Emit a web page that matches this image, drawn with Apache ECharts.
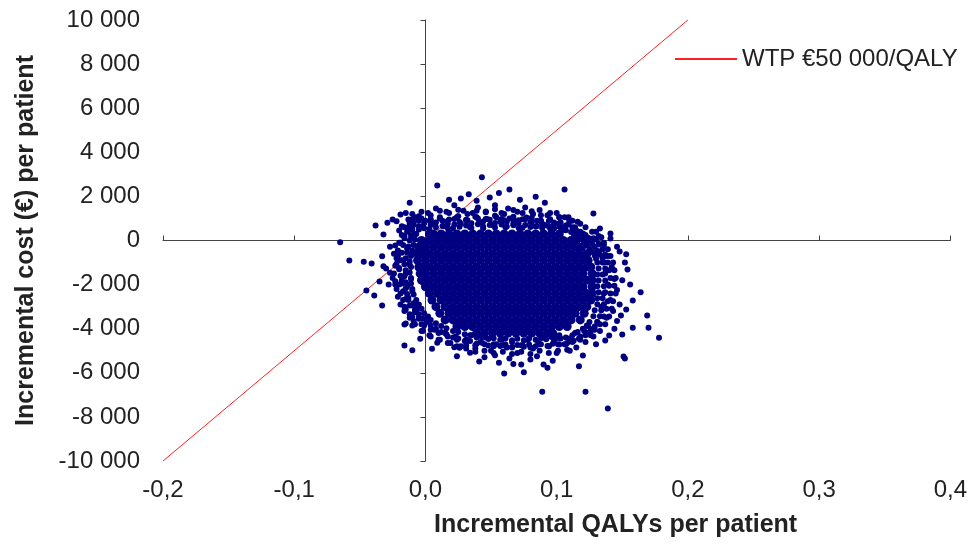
<!DOCTYPE html>
<html>
<head>
<meta charset="utf-8">
<script src="https://cdn.jsdelivr.net/npm/echarts@6/dist/echarts.min.js"></script>
<style>
  html, body { margin: 0; padding: 0; background: #fff; }
  #chart { width: 970px; height: 545px; }
</style>
</head>
<body>
<div id="chart"></div>
<script>
// cost-effectiveness plane: incremental QALYs vs incremental cost (bootstrap cloud)

const qalyAxis = { min: -0.2, max: 0.4, step: 0.1 };
const costAxis = { min: -10000, max: 10000, step: 2000 };

// WTP threshold line (€50 000 per QALY)
const wtpQaly = [-0.2, 0.2];
const wtpCost = [-10000, 10000];

// solid centre of the cloud, one row per cost level; QALYs in thousandths
const coreCost = [300, 0, -300, -600, -900, -1200, -1500, -1800, -2100, -2400, -2700, -3000, -3300, -3600, -3900, -4200];
const coreQaly = [
  [3, 6, 12, 18, 24, 30, 36, 42, 48, 54, 60, 66, 72, 78, 84, 90, 96, 102],
  [-3, 3, 9, 15, 21, 27, 33, 39, 45, 51, 57, 63, 69, 75, 81, 87, 93, 99, 105, 111, 115],
  [-5, 0, 6, 12, 18, 24, 30, 36, 42, 48, 54, 60, 66, 72, 78, 84, 90, 96, 102, 108, 114, 119],
  [-6, -3, 3, 9, 15, 21, 27, 33, 39, 45, 51, 57, 63, 69, 75, 81, 87, 93, 99, 105, 111, 117, 123],
  [-6, 0, 6, 12, 18, 24, 30, 36, 42, 48, 54, 60, 66, 72, 78, 84, 90, 96, 102, 108, 114, 120, 124],
  [-5, -3, 3, 9, 15, 21, 27, 33, 39, 45, 51, 57, 63, 69, 75, 81, 87, 93, 99, 105, 111, 117, 123, 126],
  [-4, 0, 6, 12, 18, 24, 30, 36, 42, 48, 54, 60, 66, 72, 78, 84, 90, 96, 102, 108, 114, 120, 127],
  [-3, 3, 9, 15, 21, 27, 33, 39, 45, 51, 57, 63, 69, 75, 81, 87, 93, 99, 105, 111, 117, 123, 127],
  [0, 6, 12, 18, 24, 30, 36, 42, 48, 54, 60, 66, 72, 78, 84, 90, 96, 102, 108, 114, 120, 127],
  [3, 9, 15, 21, 27, 33, 39, 45, 51, 57, 63, 69, 75, 81, 87, 93, 99, 105, 111, 117, 123, 127],
  [5, 12, 18, 24, 30, 36, 42, 48, 54, 60, 66, 72, 78, 84, 90, 96, 102, 108, 114, 120, 126],
  [8, 15, 21, 27, 33, 39, 45, 51, 57, 63, 69, 75, 81, 87, 93, 99, 105, 111, 117, 123],
  [11, 18, 24, 30, 36, 42, 48, 54, 60, 66, 72, 78, 84, 90, 96, 102, 108, 114, 121],
  [15, 21, 27, 33, 39, 45, 51, 57, 63, 69, 75, 81, 87, 93, 99, 105, 111, 118],
  [24, 30, 36, 42, 48, 54, 60, 66, 72, 78, 84, 90, 96, 102, 108],
  [39, 45, 51, 57, 63, 69, 75, 81, 87, 93, 97]
];

// simulations round the centre: [QALYs in thousandths, cost €]
const edgeSims = [
  // edge of the centre
  [-5, 650], [-1, 560], [4, 700], [8, 600], [13, 660], [17, 560], [22, 720], [26, 620], [31, 680], [35, 580],
  [40, 740], [44, 640], [49, 700], [53, 590], [58, 720], [62, 630], [67, 690], [71, 580], [76, 700], [80, 610],
  [85, 660], [89, 560], [94, 640], [98, 540], [103, 600], [107, 460], [111, 380],
  [113, 300], [116, 180], [119, 60], [121, -80], [123, -220], [125, -370], [127, -520], [129, -680], [130, -830],
  [131, -1000], [132, -1270], [131, -1540], [132, -1810], [131, -2080], [132, -2350], [131, -2620], [131, -2890],
  [129, -3160], [128, -3430], [125, -3700],
  [123, -3850], [120, -4000], [116, -4150], [112, -4300], [107, -4400], [103, -4450],
  [100, -4420], [96, -4380], [92, -4480], [88, -4430], [84, -4500], [79, -4440], [75, -4520], [70, -4460],
  [66, -4520], [61, -4440], [57, -4500], [52, -4430], [48, -4470], [43, -4380], [39, -4400], [34, -4300],
  [30, -4250], [25, -4150], [21, -4100], [16, -3980], [12, -3880], [8, -3750], [4, -3600], [2, -3450],
  [-1, -3300], [-3, -3100], [-5, -2900], [-7, -2700],
  [-9, -2450], [-10, -2200], [-11, -1950], [-11, -1700], [-12, -1450], [-11, -1200], [-12, -950], [-11, -700],
  [-10, -450], [-9, -200], [-8, 50], [-7, 300], [-5, 500], [-3, 600],
  // next ring
  [-10, 950], [-3, 1000], [4, 880], [11, 1050], [18, 950], [25, 1100], [32, 920], [39, 1050], [46, 980],
  [53, 1120], [60, 920], [67, 1080], [74, 960], [81, 1030], [88, 880], [95, 960], [102, 780], [109, 720],
  [114, 600], [118, 400], [122, 250],
  [128, 100], [132, -150], [135, -400], [137, -700], [139, -1000], [140, -1350], [141, -1700], [140, -2050],
  [141, -2400], [139, -2750], [138, -3100], [136, -3450], [133, -3800], [129, -4050], [124, -4200], [118, -4350],
  [113, -4550], [108, -4650], [101, -4700], [94, -4800], [87, -4700], [80, -4850], [73, -4750], [66, -4850],
  [59, -4750], [52, -4800], [45, -4700], [38, -4750], [31, -4600], [24, -4500], [17, -4350], [10, -4200], [4, -4050],
  [-1, -3850], [-5, -3550], [-8, -3250], [-12, -2950], [-15, -2650], [-17, -2300], [-18, -1950], [-19, -1600],
  [-20, -1250], [-19, -900], [-18, -550], [-17, -200], [-16, 100], [-14, 400], [-12, 700], [-10, 900],
  // third ring
  [-5, 900], [-1, 780], [4, 960], [8, 820], [13, 900], [17, 760], [22, 980], [26, 840], [31, 920], [35, 780],
  [40, 1000], [44, 860], [49, 940], [53, 790], [58, 980], [62, 850], [67, 930], [71, 780], [76, 960], [80, 830],
  [85, 900], [89, 760], [94, 880], [98, 740], [103, 820], [107, 680], [112, 600],
  [115, 450], [118, 320], [121, 150], [124, 0], [127, -150], [129, -300], [131, -480], [133, -650], [135, -800],
  [136, -1000], [137, -1270], [135, -1540], [137, -1810], [136, -2080], [137, -2350], [135, -2620], [136, -2890],
  [134, -3160], [133, -3430], [131, -3700],
  [129, -3900], [126, -4100], [122, -4300], [117, -4450], [112, -4600], [107, -4700],
  [102, -4720], [97, -4680], [93, -4780], [88, -4700], [84, -4800], [79, -4720], [75, -4820], [70, -4740],
  [66, -4830], [61, -4720], [57, -4790], [52, -4700], [48, -4760], [43, -4640], [39, -4680], [34, -4560],
  [30, -4560], [25, -4450], [21, -4400], [16, -4250], [12, -4150], [8, -4000], [4, -3850], [1, -3700],
  [-2, -3550], [-5, -3350], [-8, -3150], [-10, -2950],
  [-13, -2700], [-14, -2430], [-15, -2160], [-15, -1890], [-16, -1620], [-15, -1350], [-16, -1080], [-15, -810],
  [-14, -540], [-13, -270], [-12, 0], [-11, 250], [-10, 500], [-9, 700],
  // outer ring
  [-10, 1200], [-3, 1300], [4, 1150], [11, 1350], [18, 1250], [25, 1400], [32, 1200], [39, 1350], [46, 1280],
  [53, 1420], [60, 1200], [67, 1380], [74, 1250], [81, 1330], [88, 1150], [95, 1250], [102, 1050], [109, 1000],
  [116, 850], [122, 600], [127, 400],
  [132, 200], [136, -100], [139, -400], [141, -700], [143, -1000], [144, -1350], [145, -1700], [144, -2050],
  [145, -2400], [143, -2750], [142, -3100], [140, -3450], [137, -3800], [133, -4100], [128, -4350], [122, -4600],
  [115, -4850], [108, -4950], [101, -5000], [94, -5100], [87, -5000], [80, -5150], [73, -5050], [66, -5150],
  [59, -5050], [52, -5100], [45, -5000], [38, -5050], [31, -4900], [24, -4800], [17, -4650], [10, -4500], [4, -4350],
  [-3, -4100], [-8, -3800], [-12, -3500], [-16, -3200], [-19, -2900], [-21, -2550], [-22, -2200], [-23, -1850],
  [-24, -1500], [-23, -1150], [-22, -800], [-21, -450], [-20, -100], [-18, 250], [-16, 600], [-13, 950],
  // top band
  [-4, 600], [0, 900], [3, 520], [7, 780], [11, 1000], [14, 650], [17, 880], [21, 560], [24, 1050], [27, 760],
  [31, 940], [34, 600], [38, 1080], [41, 820], [44, 560], [47, 980], [51, 700], [54, 1060], [57, 860], [61, 600],
  [64, 1000], [67, 760], [71, 920], [74, 580], [77, 1040], [81, 820], [84, 640], [88, 900], [91, 700], [95, 540],
  [98, 820], [102, 640], [106, 480], [109, 760], [113, 560], [117, 380], [121, 240], [124, 120],
  [2, 1250], [8, 1450], [16, 1300], [22, 1600], [29, 1350], [36, 1250], [40, 1500], [46, 1320], [53, 1600], [58, 1250],
  [63, 1450], [70, 1300], [76, 1500], [82, 1200], [87, 1380], [93, 1150], [100, 1250], [106, 1050], [112, 900], [118, 760],
  [-8, 1050], [-12, 800], [-15, 1250],
  [9, 2494], [43, 2870], [64, 2313], [84, 1982], [91, 1710], [106, 2313], [-12, 1710], [27, 1900], [33, 2100], [49, 1950],
  [56, 2150], [72, 1850], [39, 1800], [18, 1850], [128, 1224], [133, 544], [141, 317], [141, 90],
  // left side
  [-38, 680], [-32, 272], [-29, 803], [-25, 952], [-19, 1179], [-22, 875], [-18, 650], [-27, -286], [-23, -227],
  [-33, -712], [-32, -1165], [-30, -1270], [-27, -1465], [-23, -1995], [-28, -1995], [-35, -1859], [-45, -2267],
  [-39, -2494], [-33, -2948], [-58, -907], [-47, -966], [-41, -1043], [-65, -77],
  [-15, -3764], [-10, -3855], [-16, -3810], [-10, -3460], [-15, -3129], [-10, -4975], [-16, -4762], [-4, -4458],
  [-20, 450], [-16, 200], [-13, 500], [-11, 100], [-19, -100], [-14, -350], [-10, -600], [-21, -700], [-17, -900],
  [-12, -1100], [-20, -1300], [-15, -1500], [-11, -1750], [-18, -1800], [-14, -2100], [-10, -2300], [-19, -2400],
  [-13, -2600], [-9, -2850], [-16, -3000], [-7, -3200], [-12, -3350], [-5, -3500], [-9, -3650], [-3, -3800],
  [-22, -1050], [-24, -600], [-8, 300], [-9, 800], [-5, 1100], [-17, -2700], [-25, -1700], [-6, -3000], [-20, -2000],
  // bottom band
  [-2, -4100], [3, -4300], [7, -4050], [11, -4500], [15, -4200], [19, -4650], [23, -4350], [27, -4800], [31, -4500],
  [35, -4300], [38, -4900], [42, -4600], [46, -4400], [50, -5000], [54, -4700], [58, -4500], [62, -4850], [66, -4600],
  [70, -5100], [74, -4750], [78, -4500], [82, -4900], [86, -4650], [90, -4400], [94, -4800], [98, -4550], [102, -4300],
  [106, -4700], [110, -4450], [114, -4200], [118, -4500], [121, -4100], [124, -3900],
  [9, -4640], [5, -4911], [24, -5248], [22, -4839], [26, -4866], [31, -4762], [34, -5093], [41, -5487], [60, -6032],
  [75, -5972], [73, -5624], [89, -6861], [93, -5773], [90, -5624], [56, -5546], [122, -6861], [139, -7619], [120, -5215],
  [117, -5700], [45, -5300], [64, -5350], [80, -5400], [100, -5100], [110, -5000], [85, -5250], [53, -5200], [67, -5600],
  [97, -5450], [130, -4700], [137, -4535], [140, -4308], [150, -4263], [151, -5260], [152, -5350], [178, -4412],
  // right side
  [130, 400], [134, 150], [136, -200], [132, -500], [139, -700], [135, -1000], [142, -1200], [137, -1500], [144, -1750],
  [139, -2000], [146, -2250], [136, -2400], [141, -2700], [148, -2900], [134, -3000], [143, -3200], [138, -3500],
  [131, -3700], [146, -3650], [128, -4000], [146, -286], [153, -620], [154, -1315], [164, -2345], [158, -2721],
  [153, -3129], [169, -3401], [170, -3960], [158, -3960], [137, -635], [132, -181], [130, 45], [120, 317], [114, 544],
  [109, 1057], [102, 1057], [150, -1800], [156, -2000], [149, -3400], [144, -4000], [126, -4300], [152, -1000], [148, -500]
];

const FONT = 'Liberation Sans, Arial, sans-serif';
const DOT = '#000080';
const WTP = 'WTP €50 000/QALY';

const coreData = [];
coreCost.forEach((c, i) => coreQaly[i].forEach(q => coreData.push([q / 1000, c])));
const edgeData = edgeSims.map(([q, c]) => [q / 1000, c]);
const wtpData = wtpQaly.map((q, i) => [q, wtpCost[i]]);

const fmtCost = v => String(v).replace(/\B(?=(\d{3})+(?!\d))/g, ' ');
const fmtQaly = v => v.toFixed(1).replace('.', ',');

const chart = echarts.init(document.getElementById('chart'));
chart.setOption({
  animation: false,
  backgroundColor: '#fff',
  grid: { left: 163, right: 19, top: 20, bottom: 84 },
  legend: {
    data: [{ name: WTP, icon: 'rect' }],
    left: 670, top: 42,
    itemWidth: 62, itemHeight: 2,
    textStyle: { fontFamily: FONT, fontSize: 24, color: '#222' }
  },
  xAxis: [
    {
      type: 'value', min: qalyAxis.min, max: qalyAxis.max, interval: qalyAxis.step,
      position: 'bottom',
      axisLine: { show: false, onZero: false }, axisTick: { show: false }, splitLine: { show: false },
      axisLabel: { formatter: fmtQaly, margin: 17, fontFamily: FONT, fontSize: 24, color: '#222' },
      name: 'Incremental QALYs per patient', nameLocation: 'middle', nameGap: 52,
      nameTextStyle: { fontFamily: FONT, fontSize: 25, fontWeight: 'bold', color: '#222', padding: [0, 0, 0, 118] }
    },
    {
      type: 'value', min: qalyAxis.min, max: qalyAxis.max, interval: qalyAxis.step,
      position: 'bottom',
      axisLine: { onZero: true, lineStyle: { color: '#444', width: 1 } },
      axisTick: { inside: true, length: 5, lineStyle: { color: '#444' } },
      axisLabel: { show: false }, splitLine: { show: false }
    }
  ],
  yAxis: [
    {
      type: 'value', min: costAxis.min, max: costAxis.max, interval: costAxis.step,
      position: 'left',
      axisLine: { show: false, onZero: false }, axisTick: { show: false }, splitLine: { show: false },
      axisLabel: { formatter: fmtCost, margin: 23, fontFamily: FONT, fontSize: 24, color: '#222' },
      name: 'Incremental cost (€) per patient', nameLocation: 'middle', nameGap: 124,
      nameTextStyle: { fontFamily: FONT, fontSize: 25, fontWeight: 'bold', color: '#222' }
    },
    {
      type: 'value', min: costAxis.min, max: costAxis.max, interval: costAxis.step,
      position: 'left',
      axisLine: { onZero: true, lineStyle: { color: '#444', width: 1 } },
      axisTick: { length: 5, lineStyle: { color: '#444' } },
      axisLabel: { show: false }, splitLine: { show: false }
    }
  ],
  series: [
    {
      name: WTP, type: 'line', data: wtpData,
      symbol: 'none', z: 1,
      lineStyle: { color: '#ff2020', width: 1 }, itemStyle: { color: '#ff2020' }
    },
    {
      name: 'sim-core', type: 'scatter', data: coreData, z: 2,
      symbolSize: 9, itemStyle: { color: DOT, opacity: 1 }
    },
    {
      name: 'sim-edge', type: 'scatter', data: edgeData, z: 2,
      symbolSize: 6, itemStyle: { color: DOT, opacity: 1 }
    }
  ]
});
</script>
</body>
</html>
